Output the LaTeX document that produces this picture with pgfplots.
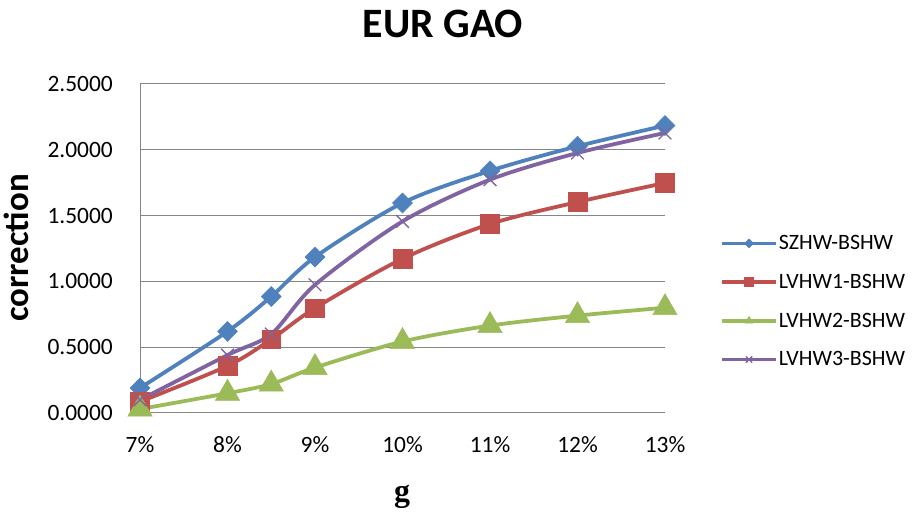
\documentclass[border=0pt]{standalone}
\usepackage{pgfplots}
\pgfplotsset{compat=1.18}
\usepackage{fontspec}
\setmainfont{Carlito}
\newfontfamily\serifb{Liberation Serif}
\definecolor{cBlue}{HTML}{4F81BD}
\definecolor{cRed}{HTML}{C0504D}
\definecolor{cGreen}{HTML}{9BBB59}
\definecolor{cPurple}{HTML}{8064A2}
\definecolor{cGrid}{HTML}{868686}
\begin{document}
\begin{tikzpicture}[x=1bp,y=1bp]
\path[use as bounding box] (0,0) rectangle (914,517);
\begin{axis}[
  at={(140bp,104bp)}, anchor=south west,
  scale only axis, width=525bp, height=329bp,
  xmin=7, xmax=13, ymin=0, ymax=2.5,
  xtick={7,8,9,10,11,12,13},
  xticklabels={7\%,8\%,9\%,10\%,11\%,12\%,13\%},
  ytick={0,0.5,1,1.5,2,2.5},
  /pgf/number format/assume math mode=true,
  yticklabel={\pgfmathprintnumber[fixed,fixed zerofill,precision=4]{\tick}},
  tick label style={font=\fontsize{23.5}{23.5}\selectfont},
  yticklabel style={inner sep=0pt, anchor=east, xshift=-27bp},
  xticklabel style={inner sep=0pt, anchor=north, yshift=-23bp},
  major tick length=0pt,
  axis lines*=left,
  axis line style={draw=cGrid, line width=1bp, -},
  ymajorgrids,
  grid style={draw=cGrid, line width=1bp},
  clip=false,
  every axis plot/.append style={line width=3.8bp, smooth, tension=0.5},
  legend style={draw=none, fill=none, at={(1.105,0.339)}, anchor=west,
    font=\fontsize{22}{22}\selectfont, row sep=21bp, inner sep=0pt,
    nodes={inner sep=1bp}},
  legend cell align=left,
  legend image code/.code={%
    \draw[mark repeat=2,mark phase=2,line width=3.5bp] plot coordinates {(0bp,0bp) (27bp,0bp) (54bp,0bp)};},
  legend image post style={mark size=4.5bp},
]
\addplot[color=cBlue, mark=diamond*, mark size=10bp, mark options={xscale=1.33, line width=0.5bp}]
  coordinates {(7,0.19) (8,0.62) (8.5,0.885) (9,1.185) (10,1.596) (11,1.840) (12,2.027) (13,2.184)};
\addlegendentry{SZHW-BSHW}
\addplot[color=cRed, mark=square*, mark size=9.3bp, mark options={line width=0.5bp}]
  coordinates {(7,0.086) (8,0.358) (8.5,0.56) (9,0.797) (10,1.172) (11,1.436) (12,1.603) (13,1.748)};
\addlegendentry{LVHW1-BSHW}
\addplot[color=cGreen, mark=triangle*, mark size=14bp, mark options={line width=0.5bp}]
  coordinates {(7,0.03) (8,0.15) (8.5,0.22) (9,0.345) (10,0.543) (11,0.664) (12,0.74) (13,0.80)};
\addlegendentry{LVHW2-BSHW}
\addplot[color=cPurple, mark=x, mark size=9bp, mark options={line width=1.3bp}]
  coordinates {(7,0.10) (8,0.44) (8.5,0.60) (9,0.974) (10,1.456) (11,1.773) (12,1.976) (13,2.128)};
\addlegendentry{LVHW3-BSHW}
\end{axis}
\node[anchor=base] at (443,479) {\fontsize{42}{42}\selectfont\bfseries EUR GAO};
\node[anchor=base, rotate=90, inner sep=0pt] at (28,269) {\fontsize{35}{35}\selectfont\bfseries correction};
\node[anchor=base, inner sep=0pt] at (402,15) {\fontsize{32}{32}\selectfont\serifb\bfseries g};
\end{tikzpicture}
\end{document}
